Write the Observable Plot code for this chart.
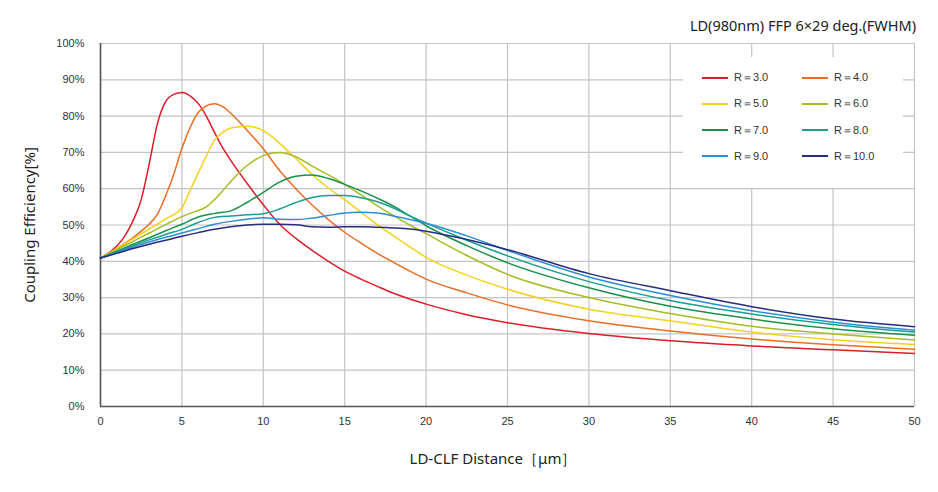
<!DOCTYPE html>
<html>
<head>
<meta charset="utf-8">
<script src="https://cdn.jsdelivr.net/npm/d3@7"></script>
<script src="https://cdn.jsdelivr.net/npm/@observablehq/plot@0.6"></script>
<style>
  html, body { margin: 0; padding: 0; background: #fff; }
  #wrap { position: relative; width: 938px; height: 492px; overflow: hidden; }
  .ttl { position: absolute; font-family: "Noto Sans", sans-serif; color: #222; white-space: nowrap; }
  #title { right: 22px; top: 15px; font-size: 14.5px; }
  #xtitle { left: 0; width: 986px; text-align: center; top: 448px; font-size: 15px; }
  #ytitle { left: 29px; top: 225px; font-size: 15px; transform: translate(-50%, -50%) rotate(-90deg); }
  #legend { position: absolute; left: 683px; top: 57px; width: 220px; height: 131px; background: #fff; }
  .sw { position: absolute; width: 26px; height: 2px; }
  .lab { position: absolute; font-family: "Liberation Sans", Arial, sans-serif; font-size: 11px; color: #333; white-space: nowrap; line-height: 12px; }
</style>
</head>
<body>
<div id="wrap">
  <div id="chart"></div>
  <div id="title" class="ttl">LD(980nm) FFP 6×29 deg.(FWHM)</div>
  <div id="xtitle" class="ttl">LD-CLF Distance［μm］</div>
  <div id="ytitle" class="ttl">Coupling Efficiency[%]</div>
  <div id="legend"></div>
</div>
<script>
// Tick values
const xTicks = [0, 5, 10, 15, 20, 25, 30, 35, 40, 45, 50];
const yTicks = [0, 10, 20, 30, 40, 50, 60, 70, 80, 90, 100];

// Series names and colours
const seriesNames = ["R＝3.0", "R＝4.0", "R＝5.0", "R＝6.0", "R＝7.0", "R＝8.0", "R＝9.0", "R＝10.0"];
const seriesColors = ["#dc1c28", "#ec6d22", "#f6d01e", "#a5bd22", "#19914a", "#1e9b92", "#2a8fd3", "#262c7e"];

// Coupling efficiency [%] vs distance [µm]
const r3 = [[0,40.9],[1,44.2],[1.5,47],[2,51.2],[2.5,57],[3,67],[3.5,78],[4,84],[4.5,86],[5,86.5],[5.5,85.6],[6,83.5],[6.5,80],[7,75.5],[7.5,71.3],[8,67.8],[9,61.5],[10,55.6],[11,50.2],[12,46.3],[13,43],[14,40],[15,37.3],[16,35.1],[17,33.1],[18,31.2],[19,29.6],[20,28.2],[22.5,25.3],[25,23.1],[30,20.1],[35,18.1],[40,16.7],[45,15.6],[50,14.6]];
const r4 = [[0,40.9],[1,43.5],[2,46.5],[2.5,48.3],[3,50.3],[3.5,53],[4,58],[4.5,64],[5,71.1],[5.5,76.8],[6,81],[6.5,82.8],[7,83.4],[7.5,82.6],[8,80.8],[9,76.1],[10,71],[11,65],[12,60],[13,55.5],[14,51.5],[15,48],[16,45],[17,42.2],[18,39.7],[19,37.3],[20,35.1],[22.5,31.3],[25,28],[30,23.6],[35,20.8],[40,18.6],[45,17],[50,15.8]];
const r5 = [[0,40.9],[1,43.5],[2,46.2],[3,48.9],[4,51.7],[5,54.7],[5.5,59.5],[6,64.3],[6.5,69],[7,73.3],[7.5,75.5],[8,76.7],[9,77.2],[10,76],[11,72.5],[12,68.3],[13,63.9],[14,60.2],[15,57],[16,53.5],[17,50.1],[18,47],[19,44],[20,41.1],[22.5,36.2],[25,32.3],[30,26.8],[35,23.6],[40,20.5],[45,18.4],[50,17.1]];
const r6 = [[0,40.9],[1,43.2],[2,45.5],[3,47.8],[4,50.1],[5,52.3],[5.5,53.2],[6,54],[6.5,55],[7,57],[7.5,59.4],[8,62],[9,66.4],[10,69.1],[11,70],[12,68.8],[13,66.2],[14,63.8],[15,61.2],[16,58.3],[17,55.3],[18,52.6],[19,50],[20,47.6],[22.5,41.6],[25,36.4],[30,30],[35,25.6],[40,22.1],[45,20],[50,18.3]];
const r7 = [[0,40.9],[1,42.8],[2,44.7],[3,46.5],[4,48.4],[5,50.2],[6,52.2],[7,53.2],[8,53.9],[9,56.2],[10,59],[11,61.8],[12,63.4],[13,63.8],[14,62.8],[15,61.2],[16,59.4],[17,57.4],[18,55.2],[19,52.5],[20,49.8],[22.5,44.3],[25,39.6],[30,32.7],[35,27.6],[40,24.1],[45,21.4],[50,19.6]];
const r8 = [[0,40.9],[1,42.6],[2,44.3],[3,45.9],[4,47.4],[5,48.8],[6,50.7],[7,52.1],[8,52.5],[9,52.8],[10,53.1],[11,54.4],[12,56.2],[13,57.6],[14,58.1],[15,58.1],[16,57.5],[17,56.4],[18,54.7],[19,52.5],[20,50.5],[22.5,45.8],[25,41.5],[30,34.4],[35,29.2],[40,25.5],[45,22.6],[50,20.5]];
const r9 = [[0,40.9],[1,42.4],[2,43.9],[3,45.3],[4,46.6],[5,47.8],[6,49],[7,50.2],[8,51],[9,51.6],[10,52],[11,51.6],[12,51.5],[13,51.9],[14,52.6],[15,53.3],[16,53.5],[17,53.3],[18,52.5],[19,51.5],[20,50.5],[22.5,47],[25,43],[30,35.7],[35,30.6],[40,26.4],[45,23.2],[50,21]];
const r10 = [[0,40.9],[1,42.2],[2,43.5],[3,44.7],[4,45.8],[5,46.9],[6,47.9],[7,48.8],[8,49.5],[9,50],[10,50.2],[11,50.2],[12,50.1],[13,49.5],[14,49.4],[15,49.5],[16,49.5],[17,49.4],[18,49.2],[19,48.9],[20,48.3],[22.5,46],[25,43.2],[30,36.6],[35,31.9],[40,27.5],[45,24.1],[50,22]];

const allSeries = [r3, r4, r5, r6, r7, r8, r9, r10];
const rows = allSeries.flatMap((s, i) => s.map(([x, y]) => ({series: seriesNames[i], x, y})));

const chart = Plot.plot({
  width: 938,
  height: 492,
  marginLeft: 100,
  marginRight: 24,
  marginTop: 43,
  marginBottom: 86,
  style: {fontFamily: "'Liberation Sans', Arial, sans-serif", fontSize: "11px", color: "#333", background: "#fff"},
  x: {domain: [0, 50], ticks: xTicks},
  y: {domain: [0, 100], ticks: yTicks},
  color: {domain: seriesNames, range: seriesColors},
  marks: [
    Plot.gridX(xTicks, {stroke: "#c4c4c4", strokeOpacity: 1, strokeWidth: 1.2}),
    Plot.gridY(yTicks, {stroke: "#c4c4c4", strokeOpacity: 1, strokeWidth: 1.2}),
    Plot.ruleX([0], {stroke: "#555", strokeWidth: 1.6}),
    Plot.ruleY([0], {stroke: "#555", strokeWidth: 1.6}),
    Plot.axisX(xTicks, {tickSize: 0, tickPadding: 11, label: null, tickFormat: d => String(d)}),
    Plot.axisY(yTicks, {tickSize: 0, tickPadding: 16, label: null, tickFormat: d => d + "%"}),
    Plot.line(rows, {x: "x", y: "y", z: "series", stroke: "series", strokeWidth: 1.5, curve: "monotone-x"})
  ]
});
document.getElementById("chart").appendChild(chart);

// Legend
const legend = document.getElementById("legend");
seriesNames.forEach((name, i) => {
  const col = i % 2, row = Math.floor(i / 2);
  const cy = 20.5 + row * 26.3;
  const sw = document.createElement("div");
  sw.className = "sw";
  sw.style.left = (19 + col * 100) + "px";
  sw.style.top = (cy - 1) + "px";
  sw.style.background = seriesColors[i];
  legend.appendChild(sw);
  const lab = document.createElement("div");
  lab.className = "lab";
  lab.style.left = (51 + col * 100) + "px";
  lab.style.top = (cy - 6.5) + "px";
  lab.textContent = name;
  legend.appendChild(lab);
});
</script>
</body>
</html>
